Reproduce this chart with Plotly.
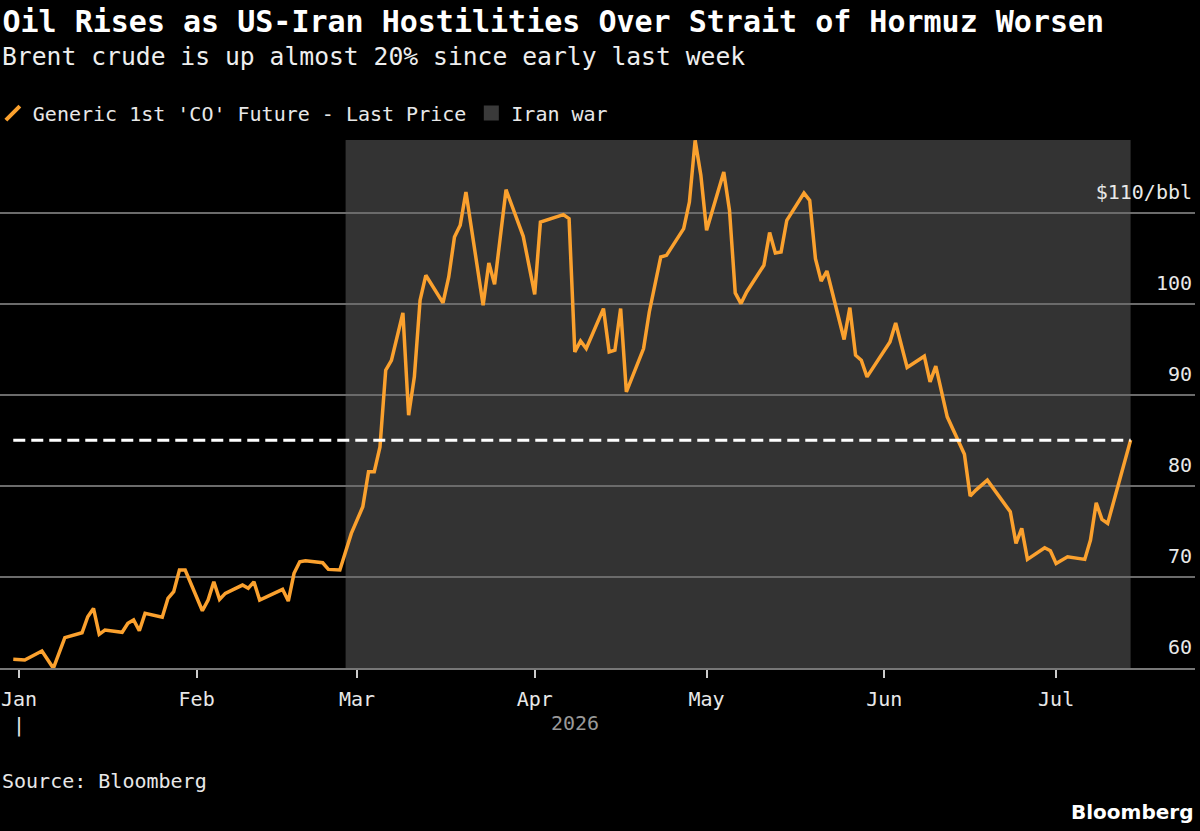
import plotly.graph_objects as go

# ---- data ----
dates = [
    "2025-12-31", "2026-01-02", "2026-01-05", "2026-01-07", "2026-01-09", "2026-01-12",
    "2026-01-13", "2026-01-14", "2026-01-15", "2026-01-16", "2026-01-19", "2026-01-20",
    "2026-01-21", "2026-01-22", "2026-01-23", "2026-01-26", "2026-01-27", "2026-01-28",
    "2026-01-29", "2026-01-30", "2026-02-02", "2026-02-03", "2026-02-04", "2026-02-05",
    "2026-02-06", "2026-02-09", "2026-02-10", "2026-02-11", "2026-02-12", "2026-02-16",
    "2026-02-17", "2026-02-18", "2026-02-19", "2026-02-20", "2026-02-23", "2026-02-24",
    "2026-02-26", "2026-02-28", "2026-03-02", "2026-03-03", "2026-03-04", "2026-03-05",
    "2026-03-06", "2026-03-07", "2026-03-09", "2026-03-10", "2026-03-11", "2026-03-12",
    "2026-03-13", "2026-03-16", "2026-03-17", "2026-03-18", "2026-03-19", "2026-03-20",
    "2026-03-23", "2026-03-24", "2026-03-25", "2026-03-27", "2026-03-30", "2026-04-01",
    "2026-04-02", "2026-04-06", "2026-04-07", "2026-04-08", "2026-04-09", "2026-04-10",
    "2026-04-13", "2026-04-14", "2026-04-15", "2026-04-16", "2026-04-17", "2026-04-20",
    "2026-04-21", "2026-04-23", "2026-04-24", "2026-04-27", "2026-04-28", "2026-04-29",
    "2026-04-30", "2026-05-01", "2026-05-04", "2026-05-05", "2026-05-06", "2026-05-07",
    "2026-05-08", "2026-05-11", "2026-05-12", "2026-05-13", "2026-05-14", "2026-05-15",
    "2026-05-18", "2026-05-19", "2026-05-20", "2026-05-21", "2026-05-22", "2026-05-25",
    "2026-05-26", "2026-05-27", "2026-05-28", "2026-05-29", "2026-06-02", "2026-06-03",
    "2026-06-05", "2026-06-08", "2026-06-09", "2026-06-10", "2026-06-12", "2026-06-15",
    "2026-06-16", "2026-06-17", "2026-06-19", "2026-06-23", "2026-06-24", "2026-06-25",
    "2026-06-26", "2026-06-29", "2026-06-30", "2026-07-01", "2026-07-03", "2026-07-06",
    "2026-07-07", "2026-07-08", "2026-07-09", "2026-07-10", "2026-07-14",
]
prices = [
    60.95, 60.88, 61.87, 59.97, 63.33, 63.87,
    65.63, 66.55, 63.70, 64.17, 63.92, 64.91,
    65.27, 64.09, 66.00, 65.57, 67.65, 68.38,
    70.76, 70.76, 66.29, 67.46, 69.47, 67.54,
    68.20, 69.11, 68.75, 69.47, 67.46, 68.64,
    67.35, 70.40, 71.67, 71.78, 71.56, 70.83,
    70.76, 74.79, 77.71, 81.55, 81.55, 84.29,
    92.71, 93.80, 99.00, 87.77, 91.98, 100.40,
    103.14, 100.10, 102.96, 107.34, 108.63, 112.28,
    99.85, 104.49, 102.15, 112.54, 107.42, 101.05,
    108.99, 109.80, 109.36, 94.72, 95.93, 95.09,
    99.48, 94.72, 94.91, 99.48, 90.33, 95.09,
    99.11, 105.15, 105.33, 108.26, 111.18, 117.96,
    114.12, 108.08, 114.48, 110.27, 101.20, 100.03,
    101.31, 104.24, 107.83, 105.59, 105.70, 109.18,
    112.17, 111.37, 104.97, 102.51, 103.61, 96.08,
    99.59, 94.36, 93.81, 91.98, 95.82, 97.90,
    93.01, 94.25, 91.43, 93.15, 87.59, 83.49,
    78.88, 79.54, 80.64, 77.16, 73.69, 75.34,
    71.93, 73.21, 72.88, 71.49, 72.22, 71.93,
    74.05, 78.14, 76.32, 75.88, 85.03,
]

war_start = "2026-02-27"
war_end = "2026-07-14"

month_ticks = ["2026-01-01", "2026-02-01", "2026-03-01", "2026-04-01",
               "2026-05-01", "2026-06-01", "2026-07-01"]
month_labels = ["Jan<br>|", "Feb", "Mar", "Apr", "May", "Jun", "Jul"]

y_ticks = [60, 70, 80, 90, 100, 110]
y_labels = ["60", "70", "80", "90", "100", "$110/bbl"]

title_text = "Oil Rises as US-Iran Hostilities Over Strait of Hormuz Worsen"
subtitle_text = "Brent crude is up almost 20% since early last week"
series_name = "Generic 1st 'CO' Future - Last Price"
war_name = "Iran war"

ORANGE = "#FBA12E"
FONT = "DejaVu Sans Mono"
LOGO_FONT = "DejaVu Sans"

fig = go.Figure()

# shaded war period
fig.add_shape(type="rect", xref="x", yref="paper", x0=war_start, x1=war_end,
              y0=0, y1=1, fillcolor="#333333", line_width=0, layer="below")

# price line
fig.add_trace(go.Scatter(x=dates, y=prices, mode="lines",
                         line=dict(color=ORANGE, width=3.5),
                         showlegend=False, hoverinfo="x+y"))

# dashed reference at the latest price
fig.add_trace(go.Scatter(x=[dates[0], dates[-1]], y=[prices[-1], prices[-1]],
                         mode="lines", line=dict(color="white", width=3, dash="12px,6px"),
                         showlegend=False, hoverinfo="skip"))

# legend entries
fig.add_trace(go.Scatter(x=[None], y=[None], mode="markers", name=series_name,
                         marker=dict(symbol="line-ne", size=14,
                                     line=dict(color=ORANGE, width=4))))
fig.add_trace(go.Scatter(x=[None], y=[None], mode="markers", name=war_name,
                         marker=dict(symbol="square", size=15, color="#3a3a3a",
                                     line=dict(width=0))))

fig.update_layout(
    width=1200, height=831,
    margin=dict(l=0, r=5, t=140, b=163, autoexpand=False),
    paper_bgcolor="black", plot_bgcolor="black",
    font=dict(family=FONT, color="#e8e8e8", size=20),
    title=dict(
        text="<b>" + title_text + "</b>",
        font=dict(family=FONT, size=30, color="white"),
        x=0.002, xanchor="left", xref="container",
        y=1 - 21 / 831, yanchor="middle", yref="container",
    ),
    showlegend=True,
    legend=dict(orientation="h", x=-0.006, xanchor="left", y=1.051, yanchor="middle",
                font=dict(family=FONT, size=20, color="#e8e8e8"),
                bgcolor="rgba(0,0,0,0)", itemwidth=30, traceorder="normal"),
    xaxis=dict(
        type="date",
        range=["2025-12-28 16:25", "2026-07-25 05:45"],
        tickvals=month_ticks, ticktext=month_labels,
        ticks="outside", ticklen=8, tickwidth=1.5, tickcolor="#cccccc",
        showgrid=False, zeroline=False,
        showline=True, linecolor="#777777", linewidth=1.5,
        tickfont=dict(family=FONT, size=20, color="#e8e8e8"),
        ticklabelstandoff=4,
    ),
    yaxis=dict(
        range=[60, 118.0], side="right",
        tickvals=y_ticks, ticktext=y_labels,
        ticklabelposition="inside", ticklabelshift=-21, ticklabelstandoff=0,
        ticklabeloverflow="allow",
        showgrid=True, gridcolor="#6b6b6b", gridwidth=1.5,
        zeroline=False, showline=False, ticks="",
        tickfont=dict(family=FONT, size=20, color="#e8e8e8"),
    ),
    annotations=[
        dict(text=subtitle_text, xref="paper", yref="paper", x=0.0, y=(668 - 57) / 528,
             xanchor="left", yanchor="middle", showarrow=False,
             font=dict(family=FONT, size=24.7, color="#eeeeee")),
        dict(text="2026", xref="x", yref="paper", x="2026-04-08", y=-0.105,
             xanchor="center", yanchor="middle", showarrow=False,
             font=dict(family=FONT, size=20, color="#999999")),
        dict(text="Source: Bloomberg", xref="paper", yref="paper", x=0.0, y=-0.214,
             xanchor="left", yanchor="middle", showarrow=False,
             font=dict(family=FONT, size=20, color="#e8e8e8")),
        dict(text="<b>Bloomberg</b>", xref="paper", yref="paper", x=1.0, y=-0.273,
             xanchor="right", yanchor="middle", showarrow=False,
             font=dict(family=LOGO_FONT, size=20, color="white")),
    ],
)

fig.write_html("out.html")
